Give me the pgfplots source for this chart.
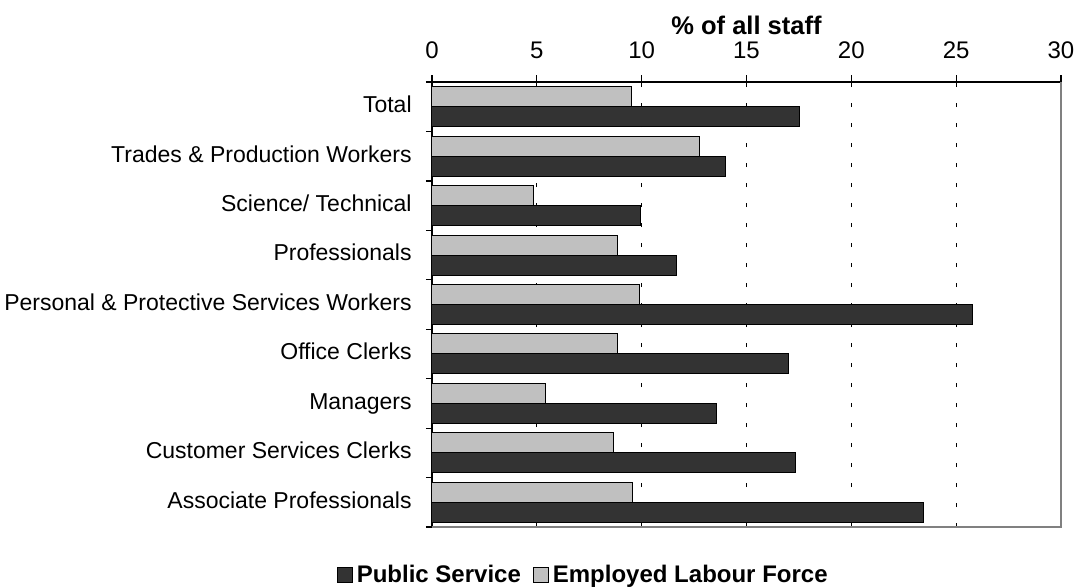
\documentclass[border=0pt]{standalone}
\usepackage{fontspec}
\setmainfont{Liberation Sans}
\usepackage{pgfplots}
\pgfplotsset{compat=1.18}
\definecolor{psdark}{HTML}{333333}
\definecolor{elfgrey}{HTML}{C0C0C0}
\begin{document}
\begin{tikzpicture}
\begin{axis}[
  name=ax,
  scale only axis,
  width=314.5pt, height=222.5pt,
  xbar, bar width=10pt,
  xmin=0, xmax=30, ymin=-0.5, ymax=8.5,
  axis x line*=top, axis y line*=left,
  axis line style={black, line width=0.6pt},
  xtick={0,5,...,30},
  /pgf/number format/assume math mode=true,
  xticklabel style={font=\fontsize{12}{14}\selectfont, inner sep=0pt},
  xticklabel shift=8pt,
  x tick style={black, line width=0.6pt},
  xlabel={\textbf{\% of all staff}},
  xlabel style={font=\fontsize{12.75}{14}\selectfont, inner sep=0pt, yshift=3pt},
  x axis line style={-},
  y axis line style={-},
  xmajorgrids,
  grid style={black, line width=0.5pt, dash pattern=on 2pt off 8pt},
  ytick={0,...,8},
  yticklabels={Associate Professionals, Customer Services Clerks, Managers, Office Clerks, Personal \& Protective Services Workers, Professionals, Science/ Technical, Trades \& Production Workers, Total},
  yticklabel style={font=\fontsize{11.5}{13}\selectfont, inner sep=0pt, text height=8.3pt, text depth=2.4pt},
  yticklabel shift=6.5pt,
  major tick length=3.5pt,
  minor tick length=3pt,
  tick align=outside,
  major y tick style={draw=none},
  minor ytick={-0.5,0.5,...,8.5},
  minor y tick style={draw=black, line width=0.6pt},
  legend style={at={(0.242,-0.108)}, anchor=center, draw=none, fill=none,
    legend columns=2, font=\bfseries\fontsize{12}{14}\selectfont,
    /tikz/every even column/.style={column sep=4pt}, inner sep=0pt},
  legend image code/.code={\draw[#1] (0pt,-3.75pt) rectangle (7.5pt,3.75pt);},
  clip=false,
]
\addplot[fill=psdark, draw=black, line width=0.5pt, bar shift=-5pt] coordinates {
(23.45,0) (17.35,1) (13.58,2) (17.0,3) (25.78,4) (11.64,5) (9.93,6) (14.0,7) (17.54,8)};
\addlegendentry{Public Service}
\addplot[fill=elfgrey, draw=black, line width=0.5pt, bar shift=5pt] coordinates {
(9.58,0) (8.65,1) (5.42,2) (8.85,3) (9.9,4) (8.86,5) (4.82,6) (12.77,7) (9.52,8)};
\addlegendentry{Employed Labour Force}
\draw[gray, line width=0.6pt] (rel axis cs:0,0) -- (rel axis cs:1,0) -- (rel axis cs:1,1);
\end{axis}
\pgfresetboundingbox
\path (-216pt,-29.5pt) rectangle (321pt,263.5pt);
\end{tikzpicture}
\end{document}
